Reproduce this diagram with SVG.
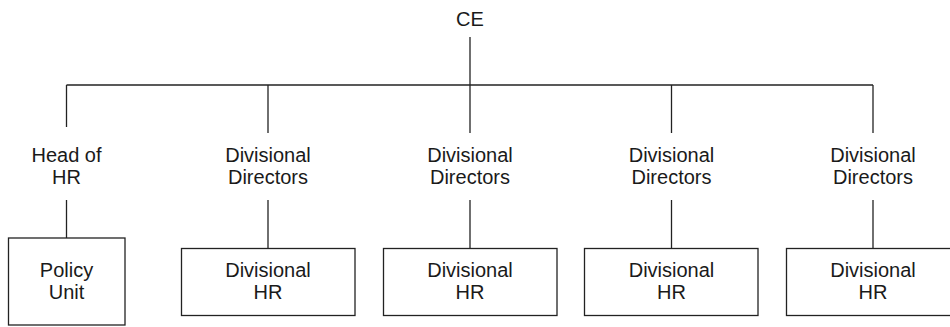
<svg xmlns="http://www.w3.org/2000/svg" width="950" height="327" viewBox="0 0 950 327">
  <style>
    .lbl { font-family: "Liberation Sans", Arial, sans-serif; font-size: 20px; fill: #1a1a1a; text-anchor: middle; }
    .box { fill: #ffffff; stroke: #222222; stroke-width: 1.3; }
    .wire { fill: none; stroke: #222222; stroke-width: 1.3; }
  </style>
  <rect width="950" height="327" fill="#ffffff"/>

  <!-- connectors -->
  <g id="connectors" class="wire">
    <line x1="470" y1="37" x2="470" y2="133"/>
    <line x1="66.5" y1="85" x2="873" y2="85"/>
    <line x1="66.5" y1="85" x2="66.5" y2="127"/>
    <line x1="268" y1="85" x2="268" y2="133"/>
    <line x1="671.5" y1="85" x2="671.5" y2="133"/>
    <line x1="873" y1="85" x2="873" y2="133"/>
    <line x1="66.5" y1="200" x2="66.5" y2="238"/>
    <line x1="268" y1="200" x2="268" y2="248"/>
    <line x1="470" y1="200" x2="470" y2="248"/>
    <line x1="671.5" y1="200" x2="671.5" y2="248"/>
    <line x1="873" y1="200" x2="873" y2="248"/>
  </g>

  <!-- top level -->
  <g id="ce">
    <text class="lbl" x="470" y="26">CE</text>
  </g>

  <!-- second level -->
  <g id="head-of-hr">
    <text class="lbl" x="66.5" y="162">Head of</text>
    <text class="lbl" x="66.5" y="184">HR</text>
  </g>
  <g id="directors-1">
    <text class="lbl" x="268" y="162">Divisional</text>
    <text class="lbl" x="268" y="184">Directors</text>
  </g>
  <g id="directors-2">
    <text class="lbl" x="470" y="162">Divisional</text>
    <text class="lbl" x="470" y="184">Directors</text>
  </g>
  <g id="directors-3">
    <text class="lbl" x="671.5" y="162">Divisional</text>
    <text class="lbl" x="671.5" y="184">Directors</text>
  </g>
  <g id="directors-4">
    <text class="lbl" x="873" y="162">Divisional</text>
    <text class="lbl" x="873" y="184">Directors</text>
  </g>

  <!-- third level -->
  <g id="policy-unit">
    <rect class="box" x="8.5" y="238" width="116.5" height="87"/>
    <text class="lbl" x="66.5" y="277">Policy</text>
    <text class="lbl" x="66.5" y="299">Unit</text>
  </g>
  <g id="divisional-hr-1">
    <rect class="box" x="181.5" y="248.5" width="173.5" height="67"/>
    <text class="lbl" x="268" y="277">Divisional</text>
    <text class="lbl" x="268" y="299">HR</text>
  </g>
  <g id="divisional-hr-2">
    <rect class="box" x="383.5" y="248.5" width="173.5" height="67"/>
    <text class="lbl" x="470" y="277">Divisional</text>
    <text class="lbl" x="470" y="299">HR</text>
  </g>
  <g id="divisional-hr-3">
    <rect class="box" x="584.5" y="248.5" width="173.5" height="67"/>
    <text class="lbl" x="671.5" y="277">Divisional</text>
    <text class="lbl" x="671.5" y="299">HR</text>
  </g>
  <g id="divisional-hr-4">
    <rect class="box" x="786.5" y="248.5" width="173.5" height="67"/>
    <text class="lbl" x="873" y="277">Divisional</text>
    <text class="lbl" x="873" y="299">HR</text>
  </g>
</svg>
